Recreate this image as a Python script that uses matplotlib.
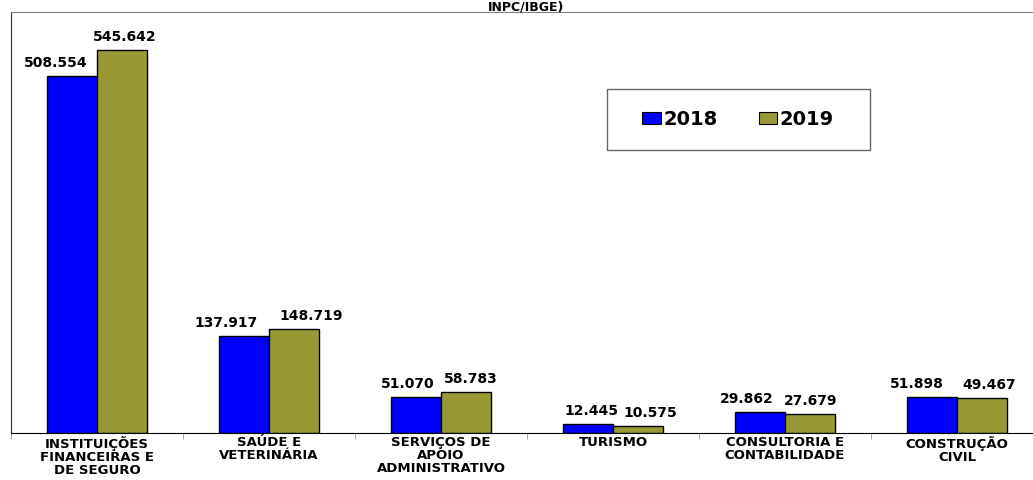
import numpy as np
import matplotlib
matplotlib.use("Agg")
import matplotlib.pyplot as plt
from matplotlib.patches import Rectangle

# Values per sector (thousands), two reference years
categories = ["INSTITUIÇÕES\nFINANCEIRAS E\nDE SEGURO", "SAÚDE E\nVETERINÁRIA",
              "SERVIÇOS DE\nAPOIO\nADMINISTRATIVO", "TURISMO",
              "CONSULTORIA E\nCONTABILIDADE", "CONSTRUÇÃO\nCIVIL"]
v2018 = [508.554, 137.917, 51.070, 12.445, 29.862, 51.898]
v2019 = [545.642, 148.719, 58.783, 10.575, 27.679, 49.467]
labels2018 = ["508.554", "137.917", "51.070", "12.445", "29.862", "51.898"]
labels2019 = ["545.642", "148.719", "58.783", "10.575", "27.679", "49.467"]

# horizontal nudges of the value labels, in pixels
nudge2018 = [-17, -18, -9, 3, -13, -15]
nudge2019 = [3, 17, 5, 13, 1, 7]

blue = "#0000ff"
olive = "#999933"

plt.rcParams['font.family'] = ['DejaVu Sans']

fig = plt.figure(figsize=(10.33, 4.8), dpi=100)
ax = fig.add_axes([11 / 1033, 47 / 480, 1032 / 1033, 421 / 480])

x = np.arange(len(categories))
w = 0.288
b1 = ax.bar(x - w / 2, v2018, w, color=blue, edgecolor="black", linewidth=1, label="2018")
b2 = ax.bar(x + w / 2, v2019, w, color=olive, edgecolor="black", linewidth=1, label="2019")

for bars, labs, nudge in ((b1, labels2018, nudge2018), (b2, labels2019, nudge2019)):
    for rect, lab, dx in zip(bars, labs, nudge):
        ax.annotate(lab, (rect.get_x() + rect.get_width() / 2, rect.get_height()),
                    xytext=(dx, 9), textcoords="offset pixels", ha="center",
                    va="baseline", fontsize=10, fontweight="bold")

ax.set_xlim(-0.5, len(categories) - 0.5)
ax.set_ylim(0, 600)
ax.set_yticks([])
ax.set_xticks(x)
ax.set_xticklabels(categories, fontsize=9.5, fontweight="bold", linespacing=1.02)
ax.tick_params(axis="x", which="major", length=0, pad=2)
ax.set_xticks(np.arange(-0.5, len(categories)), minor=True)
ax.tick_params(axis="x", which="minor", length=4, color="#999999", direction="out")

ax.spines["right"].set_visible(False)
ax.spines["top"].set_color("#808080")
ax.spines["left"].set_color("#333333")
ax.spines["bottom"].set_color("black")

# legend box
ax.add_patch(Rectangle((0.5775, 0.672), 0.2548, 0.1449, transform=ax.transAxes,
                       facecolor="white", edgecolor="#666666", linewidth=1, zorder=3))
leg = ax.legend(loc="center", bbox_to_anchor=(0.7045, 0.7447), ncol=2, frameon=False,
                prop={"weight": "bold", "size": 14}, handlelength=0.93, handleheight=0.57,
                handletextpad=0.15, columnspacing=2.1)
leg.set_zorder(4)
for h in leg.legend_handles:
    h.set_edgecolor("black")
    h.set_linewidth(0.8)

fig.text(0.509, 1 - 10 / 480, "INPC/IBGE)", ha="center", va="baseline",
         fontsize=9, fontweight="bold")

fig.savefig("out.png", dpi=100)
